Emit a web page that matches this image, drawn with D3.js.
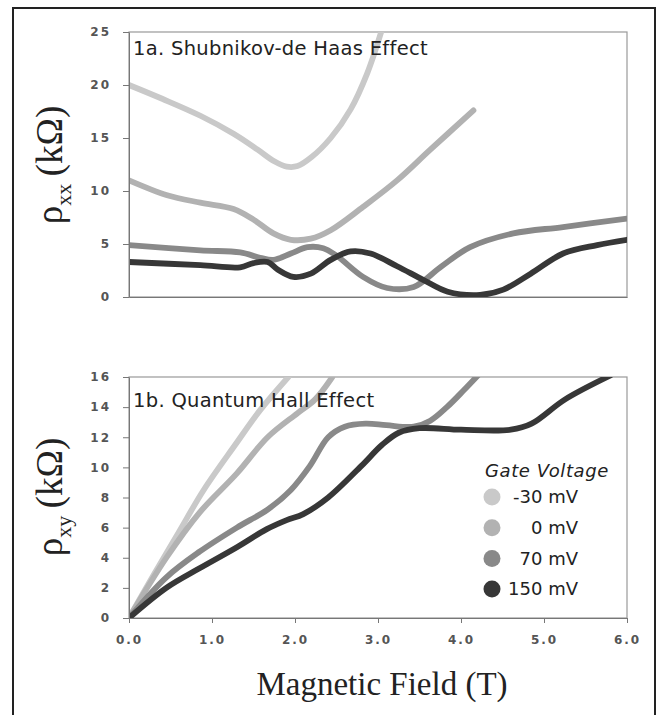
<!DOCTYPE html>
<html lang="en">
<head>
<meta charset="UTF-8">
<title>Shubnikov-de Haas and Quantum Hall Effect</title>
<script src="https://cdnjs.cloudflare.com/ajax/libs/d3/7.8.5/d3.min.js"></script>
<style>
    body { margin: 0; background: #fff; }
    svg { display: block; }
    .tick text { font: bold 12px "DejaVu Sans", sans-serif; fill: #555; letter-spacing: 2px; }
    .tick line { stroke: #777; }
    .axis path { stroke: #777; }
    .ptitle { font: 19.5px "DejaVu Sans", sans-serif; fill: #222; letter-spacing: 0.3px; }
    .serif { font-family: "Liberation Serif", "Times New Roman", serif; fill: #222; }
    .legend text { font: 18px "DejaVu Sans", sans-serif; fill: #222; }
</style>
</head>
<body>
<script>
    // gate voltages
    var gates = ["-30 mV", "0 mV", "70 mV", "150 mV"];
    var colors = ["#c9c9c9", "#b2b2b2", "#898989", "#373737"];

    // 1a. rho_xx (kOhm) vs B (T)
    var sdh_m30 = [[0, 20], [0.4, 18.7], [0.86, 17.1], [1.26, 15.4], [1.55, 13.9], [1.75, 12.8], [1.9, 12.3], [2.03, 12.35], [2.2, 13.2], [2.43, 15.0], [2.67, 17.7], [2.87, 21.1], [3.05, 25.3]];
    var sdh_0 = [[0, 11.0], [0.46, 9.6], [0.86, 8.9], [1.26, 8.3], [1.5, 7.3], [1.74, 6.0], [1.95, 5.4], [2.19, 5.5], [2.43, 6.3], [2.82, 8.5], [3.23, 11.0], [3.63, 13.9], [4.15, 17.6]];
    var sdh_70 = [[0, 4.9], [0.86, 4.4], [1.34, 4.2], [1.58, 3.7], [1.74, 3.5], [1.95, 4.1], [2.15, 4.7], [2.34, 4.6], [2.5, 3.9], [2.82, 1.9], [3.11, 0.85], [3.43, 0.95], [3.75, 2.8], [4.11, 4.7], [4.63, 6.0], [5.23, 6.6], [6.0, 7.4]];
    var sdh_150 = [[0, 3.3], [0.86, 3.0], [1.34, 2.8], [1.5, 3.2], [1.67, 3.3], [1.79, 2.6], [1.98, 1.9], [2.19, 2.2], [2.43, 3.5], [2.67, 4.3], [2.91, 4.1], [3.23, 2.9], [3.55, 1.6], [3.84, 0.5], [4.23, 0.2], [4.51, 0.7], [4.84, 2.2], [5.23, 4.1], [5.64, 4.9], [6.0, 5.4]];

    // 1b. rho_xy (kOhm) vs B (T)
    var qhe_m30 = [[0, 0], [0.3, 2.9], [0.6, 5.7], [0.9, 8.5], [1.28, 11.5], [1.58, 13.8], [1.92, 16]];
    var qhe_0 = [[0, 0], [0.45, 4.0], [0.85, 7.0], [1.3, 9.6], [1.67, 12.0], [2.03, 13.6], [2.24, 14.5], [2.45, 16]];
    var qhe_70 = [[0, 0], [0.45, 2.7], [0.85, 4.4], [1.3, 6.0], [1.67, 7.2], [1.95, 8.5], [2.18, 10.1], [2.4, 12.0], [2.6, 12.7], [2.85, 12.9], [3.1, 12.8], [3.43, 12.7], [3.63, 13.1], [3.83, 14.0], [4.03, 15.1], [4.22, 16.2]];
    var qhe_150 = [[0, 0], [0.45, 2.0], [0.85, 3.3], [1.3, 4.7], [1.66, 5.9], [1.9, 6.5], [2.1, 6.9], [2.4, 8.0], [2.8, 10.1], [3.05, 11.5], [3.25, 12.3], [3.5, 12.6], [4.0, 12.5], [4.6, 12.5], [4.85, 12.9], [5.25, 14.5], [5.8, 16.1]];

    var xTicks = [0, 1, 2, 3, 4, 5, 6];
    var yTicksA = [0, 5, 10, 15, 20, 25];
    var yTicksB = [0, 2, 4, 6, 8, 10, 12, 14, 16];

    var W = 660, H = 715;
    var svg = d3.select("body").append("svg").attr("width", W).attr("height", H);

    // outer frame (open at the bottom)
    svg.append("path")
        .attr("d", "M13,715 L13,8 L655,8 L655,715")
        .attr("fill", "none").attr("stroke", "#222").attr("stroke-width", 2);

    var x = d3.scaleLinear().domain([0, 6]).range([129, 627]);
    var yA = d3.scaleLinear().domain([0, 25]).range([297, 32]);
    var yB = d3.scaleLinear().domain([0, 16]).range([618, 377]);

    function panel(id, y, yTicks, series, title, titleY, showX) {
        var r = y.range();
        var g = svg.append("g");
        g.append("clipPath").attr("id", id).append("rect")
            .attr("x", x(0)).attr("y", r[1]).attr("width", x(6) - x(0)).attr("height", r[0] - r[1]);
        // box
        g.append("rect").attr("x", x(0)).attr("y", r[1]).attr("width", x(6) - x(0)).attr("height", r[0] - r[1])
            .attr("fill", "none").attr("stroke", "#999").attr("stroke-width", 1.2);

        var line = d3.line().x(function(d) { return x(d[0]); }).y(function(d) { return y(d[1]); })
            .curve(d3.curveCatmullRom.alpha(0.5));
        g.append("g").attr("clip-path", "url(#" + id + ")")
            .selectAll("path").data(series).enter().append("path")
            .attr("d", function(d) { return line(d); })
            .attr("fill", "none")
            .attr("stroke", function(d, i) { return colors[i]; })
            .attr("stroke-width", 5.8)
            .attr("stroke-linecap", "round").attr("stroke-linejoin", "round");

        g.append("g").attr("class", "axis").attr("transform", "translate(" + x(0) + ",0)")
            .call(d3.axisLeft(y).tickValues(yTicks).tickSize(6).tickPadding(12).tickSizeOuter(0));
        var xa = g.append("g").attr("class", "axis").attr("transform", "translate(0," + r[0] + ")");
        if (showX) {
            xa.call(d3.axisBottom(x).tickValues(xTicks).tickFormat(d3.format(".1f")).tickSize(5).tickPadding(12).tickSizeOuter(0));
        } else {
            xa.call(d3.axisBottom(x).tickValues([]).tickSizeOuter(0));
        }

        g.append("text").attr("class", "ptitle").attr("x", x(0) + 4).attr("y", titleY).text(title);
    }

    panel("clipA", yA, yTicksA, [sdh_m30, sdh_0, sdh_70, sdh_150], "1a. Shubnikov-de Haas Effect", 55, false);
    panel("clipB", yB, yTicksB, [qhe_m30, qhe_0, qhe_70, qhe_150], "1b. Quantum Hall Effect", 407, true);

    // y axis titles
    function yTitle(cy, sub) {
        var t = svg.append("text").attr("class", "serif")
            .attr("transform", "translate(62," + cy + ") rotate(-90)")
            .attr("text-anchor", "middle").style("font-size", "37px");
        t.append("tspan").text("\u03c1");
        t.append("tspan").attr("dy", 9).style("font-size", "22px").text(sub);
        t.append("tspan").attr("dy", -9).text("\u2009(k\u03a9)");
    }
    yTitle(165, "xx");
    yTitle(497, "xy");

    svg.append("text").attr("class", "serif").attr("x", 382).attr("y", 695)
        .attr("text-anchor", "middle").style("font-size", "33px").text("Magnetic Field (T)");

    // legend
    var lg = svg.append("g").attr("class", "legend");
    lg.append("text").attr("x", 485).attr("y", 477).style("font-style", "italic").style("letter-spacing", "0.6px").text("Gate Voltage");
    var item = lg.selectAll(".item").data(gates).enter().append("g")
        .attr("transform", function(d, i) { return "translate(0," + (497 + i * 30.7) + ")"; });
    item.append("circle").attr("cx", 492).attr("cy", 0).attr("r", 8.5)
        .attr("fill", function(d, i) { return colors[i]; });
    item.append("text").attr("x", 578).attr("y", 0).attr("dy", "0.35em")
        .attr("text-anchor", "end").text(function(d) { return d; });
</script>
</body>
</html>
